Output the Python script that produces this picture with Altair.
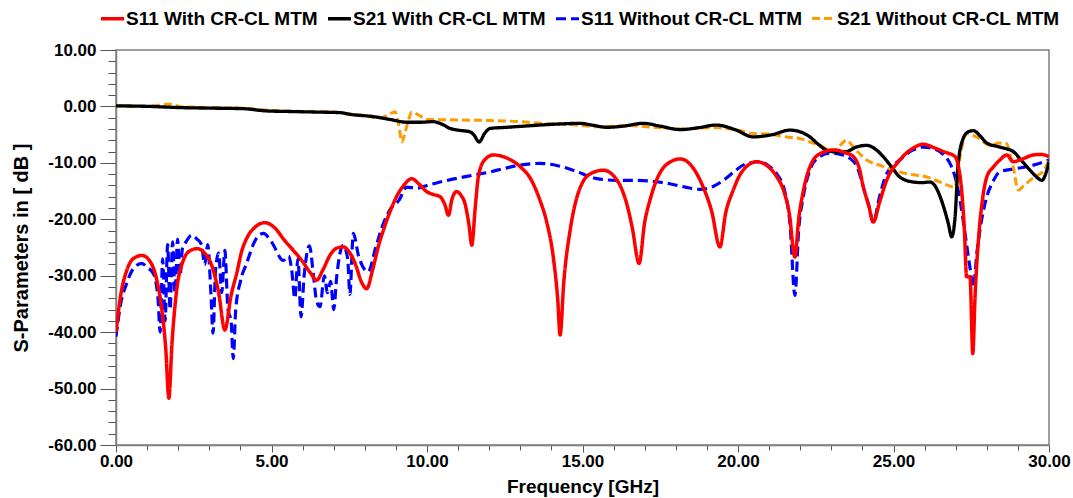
import altair as alt
import pandas as pd

series_names = ["S11 With CR-CL MTM", "S21 With CR-CL MTM",
                "S11 Without CR-CL MTM", "S21 Without CR-CL MTM"]
series_colors = ["#ff0000", "#000000", "#0000ff", "#ff9a00"]
series_dash = [[1, 0], [1, 0], [10, 5], [8, 4]]
series_width = [3.5, 3.0, 3.5, 3.0]

s11_with_f = [0.0, 0.15, 0.35, 0.55, 0.83, 1.1, 1.3, 1.45, 1.6, 1.7, 1.8, 1.95, 2.15, 2.4, 2.62,
              2.85, 3.1, 3.3, 3.5, 3.7, 3.88, 4.05, 4.2, 4.45, 4.79, 5.1, 5.4, 5.7, 6.0, 6.25,
              6.45, 6.65, 6.9, 7.1, 7.31, 7.5, 7.7, 7.9, 8.06, 8.25, 8.45, 8.6, 8.8, 9.02, 9.25,
              9.51, 9.75, 9.99, 10.2, 10.42, 10.58, 10.69, 10.8, 10.95, 11.1, 11.22, 11.35, 11.44,
              11.55, 11.65, 11.85, 12.13, 12.5, 13.0, 13.35, 13.63, 13.85, 14.06, 14.2, 14.28,
              14.4, 14.6, 14.8, 15.0, 15.3, 15.67, 16.0, 16.25, 16.42, 16.6, 16.82, 17.0, 17.17,
              17.4, 17.7, 18.14, 18.5, 18.88, 19.15, 19.42, 19.6, 19.85, 20.1, 20.6, 21.0, 21.25,
              21.46, 21.65, 21.83, 21.95, 22.1, 22.42, 22.7, 23.06, 23.45, 23.71, 23.9, 24.03,
              24.2, 24.35, 24.55, 24.78, 25.2, 25.6, 25.96, 26.3, 26.6, 26.98, 27.1, 27.19, 27.28,
              27.35, 27.46, 27.55, 27.62, 27.73, 27.85, 28.0, 28.2, 28.42, 28.64, 28.85, 29.1,
              29.5, 29.75, 30.0]
s11_with_db = [-40.0, -33.5, -29.0, -27.0, -26.4, -27.5, -30.5, -35.0, -43.0, -51.7, -42.0, -32.6,
               -27.5, -25.5, -25.2, -26.0, -28.5, -33.0, -39.6, -33.5, -29.6, -25.5, -23.4, -21.5,
               -20.6, -21.5, -23.6, -25.5, -27.5, -29.5, -30.8, -29.0, -26.2, -25.1, -24.9, -25.8,
               -28.0, -31.2, -32.3, -29.0, -24.5, -21.9, -18.8, -16.0, -14.0, -12.8, -13.8, -15.1,
               -15.6, -16.0, -17.5, -19.3, -16.5, -15.1, -15.8, -17.2, -21.0, -24.6, -18.0, -12.5,
               -9.5, -8.6, -9.0, -10.7, -13.0, -16.6, -20.5, -26.7, -34.0, -40.5, -31.0, -22.0,
               -16.5, -13.5, -11.8, -11.3, -12.3, -14.5, -17.2, -21.5, -27.8, -20.5, -16.6, -12.8,
               -10.3, -9.3, -10.5, -14.3, -18.5, -24.9, -19.0, -14.8, -11.8, -9.8, -10.8, -12.5,
               -14.8, -19.0, -26.7, -20.0, -15.0, -9.5, -8.2, -7.7, -8.2, -8.9, -11.0, -14.3,
               -17.5, -20.5, -17.0, -13.1, -9.5, -7.5, -6.7, -7.3, -8.0, -8.9, -11.0, -14.8,
               -22.0, -30.2, -30.2, -43.8, -34.0, -23.7, -17.0, -12.5, -10.8, -9.5, -8.6, -9.8,
               -9.4, -8.6, -8.5, -8.9]

s21_with_f = [0.0, 1.1, 2.0, 3.0, 4.1, 4.85, 5.6, 6.45, 7.2, 7.52, 8.27, 8.8, 9.35, 9.8, 10.2,
              10.5, 10.74, 11.0, 11.38, 11.5, 11.68, 11.85, 12.03, 12.56, 13.1, 13.63, 14.3, 14.92,
              15.3, 15.78, 16.3, 16.96, 17.5, 18.14, 18.7, 19.3, 19.9, 20.49, 21.1, 21.67, 22.0,
              22.31, 22.6, 22.85, 23.2, 23.49, 23.8, 24.14, 24.4, 24.67, 24.95, 25.2, 25.64, 25.9,
              26.17, 26.35, 26.5, 26.65, 26.76, 26.87, 26.98, 27.08, 27.24, 27.4, 27.57, 27.8,
              28.0, 28.42, 28.85, 29.1, 29.39, 29.6, 29.77, 29.93, 30.0]
s21_with_db = [0.1, 0.0, -0.2, -0.3, -0.4, -0.8, -0.9, -1.0, -1.1, -1.4, -1.8, -2.3, -2.8, -2.8,
               -2.7, -3.2, -3.9, -4.2, -4.5, -5.0, -6.3, -4.8, -3.9, -3.7, -3.5, -3.3, -3.1, -3.0,
               -3.3, -3.7, -3.5, -3.0, -3.5, -4.1, -3.8, -3.3, -4.1, -5.4, -5.0, -4.2, -4.5, -5.4,
               -6.8, -7.75, -8.1, -8.0, -7.2, -6.9, -7.5, -8.9, -10.8, -12.5, -13.4, -13.5, -13.4,
               -14.2, -16.0, -18.5, -20.7, -23.1, -19.6, -10.1, -5.7, -4.5, -4.3, -5.3, -6.5,
               -7.2, -8.0, -9.5, -11.3, -12.5, -13.1, -11.3, -9.8]

s11_without_f = [0.0, 0.15, 0.34, 0.55, 0.83, 1.0, 1.2, 1.35, 1.42, 1.5, 1.58, 1.66, 1.74, 1.82,
                 1.9, 1.98, 2.06, 2.14, 2.25, 2.43, 2.6, 2.75, 2.85, 2.95, 3.05, 3.12, 3.2, 3.3,
                 3.4, 3.5, 3.6, 3.7, 3.77, 3.85, 4.0, 4.2, 4.5, 4.74, 5.0, 5.38, 5.55, 5.65, 5.75,
                 5.85, 5.95, 6.05, 6.22, 6.35, 6.45, 6.56, 6.7, 6.8, 6.9, 7.0, 7.1, 7.3, 7.45,
                 7.52, 7.63, 7.8, 8.11, 8.35, 8.6, 8.85, 9.09, 9.35, 9.67, 10.0, 10.42, 11.28,
                 12.03, 12.99, 13.63, 14.2, 14.7, 15.46, 16.1, 16.74, 17.3, 17.81, 18.3, 18.78,
                 19.2, 19.53, 19.85, 20.17, 20.71, 21.0, 21.24, 21.5, 21.67, 21.83, 21.95, 22.1,
                 22.31, 22.6, 22.96, 23.3, 23.6, 23.85, 24.03, 24.2, 24.35, 24.55, 24.78, 25.2,
                 25.6, 25.96, 26.3, 26.6, 26.85, 26.98, 27.15, 27.3, 27.46, 27.57, 27.68, 27.78,
                 28.0, 28.2, 28.42, 28.96, 29.5, 30.0]
s11_without_db = [-40.8, -35.0, -31.4, -28.8, -27.8, -28.5, -29.6, -34.0, -40.0, -27.0, -38.0,
                  -24.5, -36.0, -24.0, -33.0, -23.5, -30.0, -25.0, -24.0, -22.8, -23.5, -24.5,
                  -28.0, -24.5, -33.0, -40.2, -29.0, -26.0, -33.0, -25.5, -36.0, -38.0, -44.7,
                  -36.0, -31.0, -27.8, -23.5, -22.5, -24.0, -27.3, -26.5, -29.0, -34.0, -27.0,
                  -37.3, -30.0, -24.7, -30.0, -34.5, -35.5, -30.0, -33.0, -31.0, -36.0, -30.0,
                  -24.6, -27.0, -33.3, -22.5, -26.5, -29.3, -25.0, -20.7, -18.0, -16.7, -14.3,
                  -14.5, -14.0, -13.4, -12.4, -11.6, -10.4, -10.1, -10.5, -11.3, -12.8, -13.1,
                  -13.1, -13.3, -13.7, -14.3, -14.7, -14.2, -13.1, -11.7, -10.4, -9.8, -10.6,
                  -11.9, -15.0, -20.7, -33.5, -22.0, -16.0, -11.3, -9.0, -8.3, -8.5, -9.2, -11.0,
                  -14.3, -17.5, -20.5, -16.0, -11.9, -9.5, -7.8, -7.2, -7.5, -8.5, -10.5, -12.5,
                  -17.0, -22.5, -28.6, -32.0, -26.0, -21.9, -16.0, -13.3, -11.6, -11.0, -10.4,
                  -9.5]

s21_without_f = [0.0, 1.0, 1.67, 2.2, 3.0, 4.0, 5.0, 6.0, 7.0, 7.8, 8.5, 8.85, 8.97, 9.1, 9.19,
                 9.3, 9.4, 9.51, 9.72, 10.0, 11.0, 12.0, 13.0, 13.63, 14.6, 15.5, 16.5, 17.5,
                 18.14, 19.0, 19.42, 20.0, 20.49, 21.0, 21.56, 22.0, 22.31, 22.64, 23.06, 23.3,
                 23.49, 23.75, 24.14, 24.6, 25.0, 25.5, 26.07, 26.5, 26.98, 27.05, 27.14, 27.35,
                 27.67, 28.1, 28.4, 28.64, 28.75, 28.85, 29.01, 29.2, 29.39, 29.6, 29.84, 30.0]
s21_without_db = [0.1, 0.0, 0.4, -0.1, -0.2, -0.3, -0.7, -0.9, -1.0, -1.5, -2.0, -1.2, -0.95,
                  -3.5, -6.3, -4.5, -2.5, -1.0, -1.5, -2.3, -2.4, -2.5, -2.7, -3.0, -3.2, -3.6,
                  -3.4, -3.8, -4.0, -3.8, -3.8, -4.2, -4.8, -4.9, -5.4, -5.7, -6.3, -6.9, -8.0,
                  -6.8, -6.0, -7.5, -9.5, -10.5, -11.3, -12.0, -12.5, -13.4, -14.3, -12.0, -8.9,
                  -4.8, -5.4, -6.9, -6.5, -6.6, -8.5, -10.7, -14.8, -14.0, -13.1, -12.3, -11.3,
                  -9.5]

x_ticks = list(range(0, 31))
y_ticks = list(range(-60, 11, 2))

all_series = [(s11_with_f, s11_with_db), (s21_with_f, s21_with_db),
              (s11_without_f, s11_without_db), (s21_without_f, s21_without_db)]
rows = []
for name, (fs, vs) in zip(series_names, all_series):
    for f, v in zip(fs, vs):
        rows.append({"series": name, "freq": f, "db": v})
df = pd.DataFrame(rows)

FONT = "Liberation Sans"

x_enc = alt.X(
    "freq:Q",
    scale=alt.Scale(domain=[0, 30], nice=False, zero=False),
    axis=alt.Axis(
        values=x_ticks,
        title="Frequency [GHz]",
        labelExpr="datum.value % 5 === 0 ? replace(format(datum.value, '.2f'), '\u2212', '-') : ''",
        tickSize={"condition": {"test": "datum.value % 5 === 0", "value": 7}, "value": 5},
        tickColor="#555555", tickWidth=1,
        domainColor="#808080", domainWidth=1.5,
        labelFont=FONT, labelFontSize=17, labelFontWeight="bold", labelColor="#000000",
        labelPadding=1, labelOverlap=False, labelFlush=False,
        titleFont=FONT, titleFontSize=19, titleFontWeight="bold", titleColor="#000000",
        titlePadding=8, grid=False,
    ),
)
y_enc = alt.Y(
    "db:Q",
    scale=alt.Scale(domain=[-60, 10], nice=False, zero=False),
    axis=alt.Axis(
        values=y_ticks,
        title="S-Parameters in [ dB ]",
        labelExpr="datum.value % 10 === 0 ? replace(format(datum.value, '.2f'), '\u2212', '-') : ''",
        tickSize={"condition": {"test": "datum.value % 10 === 0", "value": 16}, "value": 8},
        tickColor="#555555", tickWidth=1,
        domainColor="#808080", domainWidth=1.5,
        labelFont=FONT, labelFontSize=17, labelFontWeight="bold", labelColor="#000000",
        labelPadding=4, labelOverlap=False, labelFlush=False,
        titleFont=FONT, titleFontSize=20, titleFontWeight="bold", titleColor="#000000",
        titlePadding=16, grid=False,
    ),
)
legend_kw = dict(
    title=None, orient="none", legendX=-17, legendY=-45, direction="horizontal",
    columns=4, symbolType="stroke", symbolSize=529, symbolStrokeWidth=4,
    labelFont=FONT, labelFontSize=19, labelFontWeight="bold", labelColor="#000000",
    labelOffset=0, columnPadding=3, labelLimit=400,
)
color_enc = alt.Color(
    "series:N",
    scale=alt.Scale(domain=series_names, range=series_colors),
    legend=alt.Legend(**legend_kw),
)
dash_enc = alt.StrokeDash(
    "series:N",
    scale=alt.Scale(domain=series_names, range=series_dash),
    legend=alt.Legend(**legend_kw),
)
width_enc = alt.StrokeWidth(
    "series:N",
    scale=alt.Scale(domain=series_names, range=series_width),
    legend=None,
)

base = alt.Chart(df).mark_line(interpolate="monotone", clip=True).encode(
    x=x_enc, y=y_enc, color=color_enc, strokeDash=dash_enc, strokeWidth=width_enc
)

draw_order = [series_names[2], series_names[3], series_names[1], series_names[0]]
layers = [base.transform_filter(alt.datum.series == n) for n in draw_order]

chart = alt.layer(*layers).properties(
    width=933, height=395,
    padding={"left": 116, "top": 50, "right": 24, "bottom": 53},
    autosize=alt.AutoSizeParams(type="none"),
    background="#ffffff",
).configure_view(stroke="#808080", strokeWidth=1.5)

chart.save("out.html", embed_options={"renderer": "svg", "actions": False})
